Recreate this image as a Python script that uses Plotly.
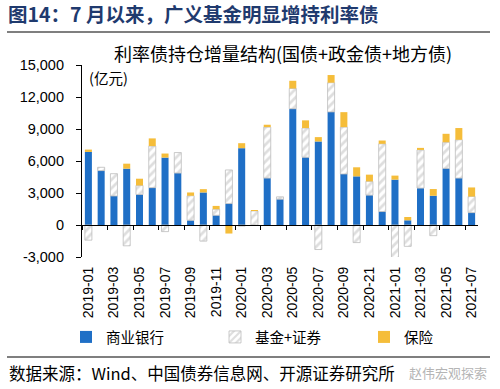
import plotly.graph_objects as go

# ---------------- data ----------------
months = [
    "2019-01", "2019-02", "2019-03", "2019-04", "2019-05", "2019-06", "2019-07", "2019-08",
    "2019-09", "2019-10", "2019-11", "2019-12", "2020-01", "2020-02", "2020-03", "2020-04",
    "2020-05", "2020-06", "2020-07", "2020-08", "2020-09", "2020-10", "2020-11", "2020-12",
    "2021-01", "2021-02", "2021-03", "2021-04", "2021-05", "2021-06", "2021-07",
]
tick_months = months[::2]
tick_labels = [
    "2019-01", "2019-03", "2019-05", "2019-07", "2019-09", "2019-11", "2020-01", "2020-03",
    "2020-05", "2020-07", "2020-09", "2020-21", "2021-01", "2021-03", "2021-05", "2021-07",
]
bank = [6850, 5100, 2720, 5280, 2860, 3500, 6320, 4870, 440, 3050, 910, 2010, 7200, -80, 4400, 2420,
        10900, 6350, 7830, 10600, 4780, 4560, 2800, 1260, 4250, 440, 3460, 2740, 5310, 4400, 1160]
fund = [-1420, 310, 2090, -1950, 850, 3900, -620, 1920, 2300, -1510, 570, 3150, -100, 1320, 4780, 220,
        1900, 2740, -2300, 2740, 4400, -1650, 1290, 6350, -3050, -2000, 3580, -1000, 2450, 3590, 1510]
insur = [220, 0, 0, 470, 630, 720, 380, 0, 310, 310, 310, -800, 470, 80, 220, 0,
         720, 720, 410, 720, 1400, 850, 630, 310, 380, 310, 190, 630, 790, 1100, 850]
y_ticks = [-3000, 0, 3000, 6000, 9000, 12000, 15000]

# ---------------- geometry helpers ----------------
W, H = 500, 389
L, R, T, B = 82, 22, 65, 132
PW, PH = W - L - R, H - T - B


def px_x(px):
    return (px - L) / PW


def px_y(py):
    return (H - B - py) / PH


BLUE = "#1F6FC6"
GRAY = "#BDBDBD"
YELLOW = "#F5BD3A"
NUM_FONT = "Liberation Sans, Arial, sans-serif"
CJK_FONT = "Noto Sans CJK SC, sans-serif"

fig = go.Figure()
fig.add_bar(name="商业银行", x=months, y=bank, marker=dict(color=BLUE, line=dict(width=0)))
fig.add_bar(name="基金+证券", x=months, y=fund,
            marker=dict(color="white", line=dict(color=GRAY, width=0.8),
                        pattern=dict(shape="/", fgcolor=GRAY, bgcolor="white", size=6, solidity=0.45)))
fig.add_bar(name="保险", x=months, y=insur, marker=dict(color=YELLOW, line=dict(width=0)))
# helper trace for the zero-line axis with category ticks
fig.add_scatter(x=months, y=[0] * len(months), xaxis="x2", mode="markers",
                marker=dict(opacity=0), showlegend=False, hoverinfo="skip")

ymin, ymax = y_ticks[0], y_ticks[-1]
zero_pos = (0 - ymin) / (ymax - ymin)

fig.update_layout(
    width=W, height=H,
    margin=dict(l=L, r=R, t=T, b=B, autoexpand=False),
    paper_bgcolor="white", plot_bgcolor="white",
    barmode="relative", bargap=0.45,
    showlegend=True,
    title=dict(text="<b>图14：7 月以来，广义基金明显增持利率债</b>",
               x=8 / W, xanchor="left", y=1 - 15 / H, yanchor="middle",
               xref="container", yref="container",
               font=dict(family=CJK_FONT, size=19.5, color="#1F3A6E")),
    xaxis=dict(type="category", categoryorder="array", categoryarray=months,
               range=[-0.5, len(months) - 0.5], automargin=False,
               tickmode="array", tickvals=tick_months, ticktext=tick_labels,
               tickangle=-90, ticks="", showline=False, showgrid=False, zeroline=False,
               ticklabelstandoff=6,
               tickfont=dict(family=NUM_FONT, size=14, color="black")),
    xaxis2=dict(type="category", categoryorder="array", categoryarray=months,
                overlaying="x", anchor="free", position=zero_pos, side="bottom",
                range=[-0.5, len(months) - 0.5], automargin=False,
                showline=True, linecolor="black", linewidth=1.2,
                ticks="outside", tickson="boundaries", ticklen=4, tickcolor="black", tickwidth=1.2,
                showticklabels=False, showgrid=False, zeroline=False),
    yaxis=dict(range=[ymin, ymax], tickmode="array", tickvals=y_ticks,
               ticktext=[f"{v:,}" for v in y_ticks], automargin=False,
               showline=True, linecolor="black", linewidth=1.2,
               ticks="outside", ticklen=5, tickcolor="black", tickwidth=1.2,
               showgrid=False, zeroline=False, ticklabelstandoff=9,
               tickfont=dict(family=NUM_FONT, size=14.5, color="black")),
    legend=dict(orientation="h", x=px_x(66), xanchor="left", y=px_y(337), yanchor="middle",
                entrywidth=104, entrywidthmode="pixels", itemwidth=30,
                font=dict(family=CJK_FONT, size=14.5, color="black"), bgcolor="rgba(0,0,0,0)"),
    annotations=[
        dict(text="利率债持仓增量结构(国债+政金债+地方债)", x=px_x(283), y=px_y(53),
             xref="paper", yref="paper", showarrow=False, xanchor="center", yanchor="middle",
             font=dict(family=CJK_FONT, size=18, color="black")),
        dict(text="(亿元)", x=px_x(87), y=px_y(77), xref="paper", yref="paper",
             showarrow=False, xanchor="left", yanchor="middle",
             font=dict(family=CJK_FONT, size=14.5, color="black")),
        dict(text="数据来源：Wind、中国债券信息网、开源证券研究所", x=px_x(7), y=px_y(373),
             xref="paper", yref="paper", showarrow=False, xanchor="left", yanchor="middle",
             font=dict(family=CJK_FONT, size=16.5, color="black")),
        dict(text="赵伟宏观探索", x=px_x(448), y=px_y(372), xref="paper", yref="paper",
             showarrow=False, xanchor="center", yanchor="middle",
             font=dict(family=CJK_FONT, size=13, color="#B5B5B5")),
    ],
    shapes=[
        dict(type="line", xref="paper", yref="paper", x0=px_x(7), x1=px_x(490),
             y0=px_y(32), y1=px_y(32), line=dict(color="#555555", width=1.5)),
        dict(type="line", xref="paper", yref="paper", x0=px_x(7), x1=px_x(490),
             y0=px_y(357), y1=px_y(357), line=dict(color="#555555", width=1.5)),
    ],
)

fig.write_html("out.html", config={"displayModeBar": False},
               post_script="document.body.style.margin='0';")
